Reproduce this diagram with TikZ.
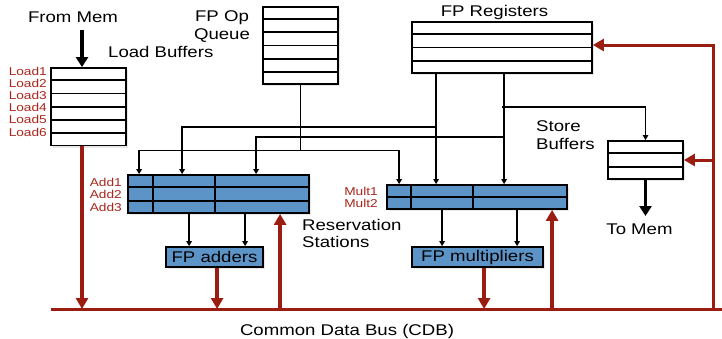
\documentclass[tikz,border=0pt]{standalone}
\usepackage{fontspec}
\setmainfont{Liberation Sans}[FakeStretch=1.2]
\usetikzlibrary{arrows.meta,calc,shadows}
\definecolor{cdbred}{RGB}{155,28,16}
\definecolor{lblred}{RGB}{170,38,28}
\definecolor{rsblue}{RGB}{92,148,200}
\tikzset{
  box/.style={draw=black, line width=1.8pt, fill=white, inner sep=0pt,
    drop shadow={shadow xshift=2pt,shadow yshift=-2pt,opacity=0.18}},
  rsbox/.style={box, fill=rsblue},
  rowline/.style={line width=1.8pt, black},
  conn/.style={line width=1.4pt, black},
  sarrow/.style={conn, -{Triangle[length=5pt,width=5.5pt]}},
  redarrow/.style={cdbred, line width=3.5pt, -{Triangle[length=11pt,width=12pt]}},
  redline/.style={cdbred, line width=3pt},
  bigblack/.style={black, line width=3.5pt, -{Triangle[length=10pt,width=12pt]}},
  lbl/.style={font=\fontsize{15.5}{18}\selectfont, inner sep=0pt},
  redlbl/.style={text=lblred, font=\fontsize{11.4}{13}\selectfont, anchor=east, inner sep=0pt}
}
\begin{document}
\begin{tikzpicture}[x=1pt,y=-1pt]
\useasboundingbox (0,0) rectangle (722,338);

% boxes
\node[box, minimum width=75pt, minimum height=77.5pt] (load) at (88.5,106.75) {};
\node[box, minimum width=75pt, minimum height=77pt] (queue) at (300.5,45.5) {};
\node[box, minimum width=180pt, minimum height=51pt] (reg) at (502,47.5) {};
\node[box, minimum width=75pt, minimum height=38pt] (store) at (645.5,160) {};
\node[rsbox, minimum width=181pt, minimum height=38pt] (add) at (218.5,194) {};
\node[rsbox, minimum width=180pt, minimum height=24pt] (mult) at (477,197) {};
\node[rsbox, minimum width=97pt, minimum height=20pt, lbl] (adders) at (214.5,257) {FP adders};
\node[rsbox, minimum width=131pt, minimum height=20pt, lbl] (mults) at (477.5,257) {FP multipliers};

% rows
\foreach \k in {1,...,5}
  \draw[rowline] ($(load.north west)!\k/6!(load.south west)$) -- ($(load.north east)!\k/6!(load.south east)$);
\foreach \k in {1,...,5}
  \draw[rowline] ($(queue.north west)!\k/6!(queue.south west)$) -- ($(queue.north east)!\k/6!(queue.south east)$);
\foreach \k in {1,2,3}
  \draw[rowline] ($(reg.north west)!\k/4!(reg.south west)$) -- ($(reg.north east)!\k/4!(reg.south east)$);
\foreach \k in {1,2}
  \draw[rowline] ($(store.north west)!\k/3!(store.south west)$) -- ($(store.north east)!\k/3!(store.south east)$);
\foreach \k in {1,2}
  \draw[rowline] ($(add.north west)!\k/3!(add.south west)$) -- ($(add.north east)!\k/3!(add.south east)$);
\draw[rowline] ($(mult.north west)!0.5!(mult.south west)$) -- ($(mult.north east)!0.5!(mult.south east)$);
% columns
\foreach \c in {26,88}
  \draw[rowline] ($(add.north west)+(\c,0)$) -- ($(add.south west)+(\c,0)$);
\foreach \c in {25,87}
  \draw[rowline] ($(mult.north west)+(\c,0)$) -- ($(mult.south west)+(\c,0)$);

% labels
\node[lbl, anchor=base] (frommem) at (73,22.5) {From Mem};
\node[lbl, anchor=base west] (loadbuf) at (108,57) {Load Buffers};
\node[lbl, anchor=base] (fpop) at (222,21) {FP Op};
\node[lbl, anchor=base] (fpq) at (222,39) {Queue};
\node[lbl, anchor=base] (fpreg) at (494.5,16.7) {FP Registers};
\node[lbl, anchor=base west] (st1) at (536,131.5) {Store};
\node[lbl, anchor=base west] (st2) at (536,149) {Buffers};
\node[lbl, anchor=base] (tomemtxt) at (639.5,234) {To Mem};
\node[lbl, anchor=base west] (rs1) at (302,230) {Reservation};
\node[lbl, anchor=base west] (rs2) at (302,247.3) {Stations};
\node[lbl, anchor=base] (cdb) at (347,335) {Common Data Bus (CDB)};

\node[redlbl] (l1) at (47,71) {Load1};
\node[redlbl] (l2) at (47,83) {Load2};
\node[redlbl] (l3) at (47,95) {Load3};
\node[redlbl] (l4) at (47,107) {Load4};
\node[redlbl] (l5) at (47,119) {Load5};
\node[redlbl] (l6) at (47,132) {Load6};
\node[redlbl] (ad1) at (122,182) {Add1};
\node[redlbl] (ad2) at (122,194.5) {Add2};
\node[redlbl] (ad3) at (122,207) {Add3};
\node[redlbl] (mu1) at (378,191) {Mult1};
\node[redlbl] (mu2) at (378,203) {Mult2};

% helper coordinates
\coordinate (fm) at (82,30);
\coordinate (busL) at (51,309);
\coordinate (busR) at (722,309);
\coordinate (rv) at (713,309);
\coordinate (hq) at (0,150.7);
\coordinate (h1) at (0,127);
\coordinate (h2) at (0,137);
\coordinate (h3) at (0,107);
\coordinate (hr) at (0,45);
\coordinate (tomem) at (0,216);
\coordinate (rl) at ($(reg.south west)+(25,0)$);
\coordinate (rr) at ($(reg.south west)+(93,0)$);
\coordinate (rrs) at ($(reg.south west)+(91,0)$);
\coordinate (a1) at ($(add.north west)+(12,0)$);
\coordinate (a2) at ($(add.north west)+(55,0)$);
\coordinate (a3) at ($(add.north west)+(129,0)$);
\coordinate (m1) at ($(mult.north west)+(13,0)$);
\coordinate (ao1) at ($(add.south west)+(62,0)$);
\coordinate (ao2) at ($(add.south west)+(118,0)$);
\coordinate (mo1) at ($(mult.south west)+(56,0)$);
\coordinate (mo2) at ($(mult.south west)+(131,0)$);
\coordinate (adout) at ($(adders.south west)+(52,0)$);
\coordinate (muout) at ($(mults.south west)+(73,0)$);
\coordinate (adin) at ($(add.south west)+(153,0)$);
\coordinate (muin) at ($(mult.south west)+(166,0)$);

% black connectors
\draw[bigblack] (fm) -- (fm |- load.north);
\draw[bigblack] (store.south) -- (store.south |- tomem);
\draw[conn] (queue.south) -- (queue.south |- hq);
\draw[sarrow] (queue.south |- hq) -| (a1);
\draw[sarrow] (queue.south |- hq) -| (m1);
\draw[sarrow] (rl) -- (rl |- mult.north);
\draw[sarrow] (rl |- h1) -| (a2);
\draw[sarrow] (rr) -- (rr |- mult.north);
\draw[sarrow] (rr |- h2) -| (a3);
\draw[sarrow] (rrs |- h3) -| (store.north);
\draw[sarrow] (ao1) -- (ao1 |- adders.north);
\draw[sarrow] (ao2) -- (ao2 |- adders.north);
\draw[sarrow] (mo1) -- (mo1 |- mults.north);
\draw[sarrow] (mo2) -- (mo2 |- mults.north);

% CDB
\draw[redline] (busL) -- (busR);
\draw[redarrow] (fm |- load.south) -- (fm |- busL);
\draw[redarrow] (adout) -- (adout |- busL);
\draw[redarrow] (muout) -- (muout |- busL);
\draw[redarrow] (adin |- busL) -- (adin);
\draw[redarrow] (muin |- busL) -- (muin);
\draw[redline, line cap=rect] (rv) -- (rv |- hr);
\draw[redline, -{Triangle[length=11pt,width=12pt]}] (rv |- hr) -- (reg.east |- hr);
\draw[redline, -{Triangle[length=11pt,width=12pt]}] (rv |- store.east) -- (store.east);
\end{tikzpicture}
\end{document}
